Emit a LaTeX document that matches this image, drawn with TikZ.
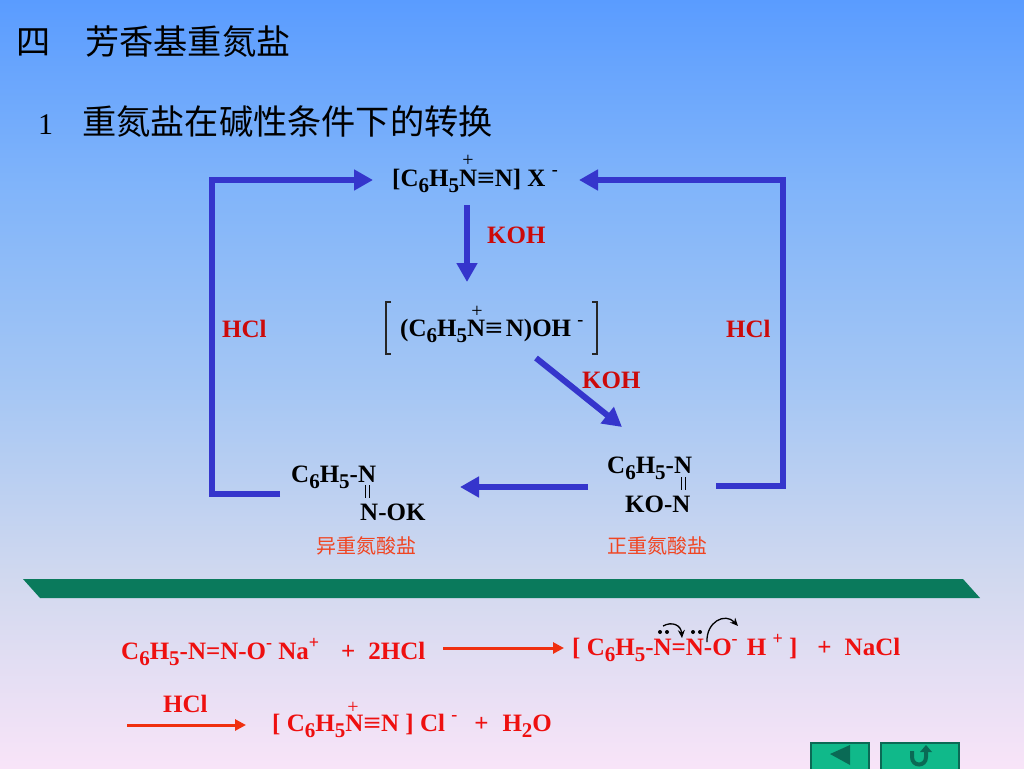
\documentclass[tikz,border=0pt]{standalone}
\usepackage{fontspec}
\usepackage{graphicx}
\setmainfont{Liberation Serif}
\newfontfamily\cjk{Noto Sans CJK SC}
\usetikzlibrary{arrows.meta}

\definecolor{flowblue}{HTML}{3535CC}
\definecolor{kohred}{HTML}{CC0A0A}
\definecolor{eqred}{HTML}{EE1010}
\definecolor{reactred}{HTML}{F03010}
\definecolor{saltred}{HTML}{F04522}
\definecolor{bargreen}{HTML}{0A7A5C}
\definecolor{btngreen}{HTML}{10B98A}
\definecolor{btndark}{HTML}{0A6A55}
\definecolor{bga}{HTML}{F8E4F8}
\definecolor{bgb}{HTML}{D2D9EF}
\definecolor{bgc}{HTML}{A4C6F4}
\definecolor{bgd}{HTML}{80B4FA}
\definecolor{bge}{HTML}{5A9CFF}
\pgfdeclareverticalshading{slidebg}{100bp}{
  color(0bp)=(bga); color(25bp)=(bga); color(37bp)=(bgb); color(50bp)=(bgc);
  color(63bp)=(bgd); color(75bp)=(bge); color(100bp)=(bge)}

\newcommand{\lowtxt}[1]{\raisebox{-.27em}{\fontsize{21}{21}\selectfont #1}}
\newcommand{\uptxt}[1]{\raisebox{.42em}{\fontsize{18}{18}\selectfont #1}}
\newcommand{\triplebond}{\scalebox{1.25}[1]{≡}}

\tikzset{
  chem/.style={anchor=base west,inner sep=0pt,font=\fontsize{25}{25}\selectfont\bfseries,text=black},
  eqn/.style={chem,text=eqred},
  reagent/.style={chem,text=kohred},
  saltname/.style={anchor=base,inner sep=0pt,font=\fontsize{20}{20}\selectfont\cjk,text=saltred},
  heading/.style={anchor=base west,inner sep=0pt,font=\fontsize{34.2}{35}\selectfont\cjk,text=black},
  plusmark/.style={inner sep=0pt,font=\fontsize{20}{20}\selectfont},
  flow/.style={line width=6pt,draw=flowblue,-{Triangle[length=19pt,width=20pt,fill=flowblue]}},
  react/.style={line width=3pt,draw=reactred,-{Triangle[length=11pt,width=11pt]}},
  btn/.style={draw=btndark,line width=1.2pt,fill=btngreen},
  push/.style={line width=1.3pt,-{Stealth[length=8pt,width=7pt]}}
}

\begin{document}
\begin{tikzpicture}[x=1pt,y=-1pt]
\useasboundingbox (0,0) rectangle (1024,768);
\shade[shading=slidebg] (0,0) rectangle (1024,768);

% headings
\node[heading] (title) at (16,55) {四\hspace{35pt}芳香基重氮盐};
\node[heading,font=\fontsize{30}{30}\selectfont] (num) at (38,134) {1};
\node[heading] (subtitle) at (82,134) {重氮盐在碱性条件下的转换};

% species
\node[chem] (diazo) at (392,186) {[C\lowtxt{6}H\lowtxt{5}N\triplebond N] X \uptxt{-}};
\node[plusmark] (diazoplus) at (468,161) {+};
\node[chem] (hydroxide) at (400,336) {(C\lowtxt{6}H\lowtxt{5}N\triplebond\hspace{3pt}N)OH \uptxt{-}};
\node[plusmark] (hydroxideplus) at (477,312) {+};
\node[chem] (isotop) at (291,482) {C\lowtxt{6}H\lowtxt{5}-N};
\node[chem] (isobot) at (360,520) {N-OK};
\node[chem] (normtop) at (607,473) {C\lowtxt{6}H\lowtxt{5}-N};
\node[chem] (normbot) at (625,512) {KO-N};
\node[saltname] (isoname) at (366,553) {异重氮酸盐};
\node[saltname] (normname) at (657,553) {正重氮酸盐};

% reagents
\node[reagent] (koha) at (487,243) {KOH};
\node[reagent] (kohb) at (582,388) {KOH};
\node[reagent] (hcla) at (222,337) {HCl};
\node[reagent] (hclb) at (726,337) {HCl};

% brackets and double bonds
\draw[line width=1.2pt,draw=black!85] (391,302) -- (386,302) -- (386,354) -- (391,354);
\draw[line width=1.2pt,draw=black!85] (592,302) -- (597,302) -- (597,354) -- (592,354);
\draw[line width=.8pt] (365,485) -- (365,498) (369,485) -- (369,498);
\draw[line width=.8pt] (681,477) -- (681,490) (685,477) -- (685,490);

% flow arrows
\coordinate (leftend) at (280,494);
\coordinate (rightend) at (716,486);
\coordinate (midstart) at (588,487);
\coordinate (midend) at (460,487);
\coordinate (diagstart) at (536,358);
\coordinate (diagend) at (622,427);
\coordinate (downstart) at (467,205);
\coordinate (downend) at (467,282);
\coordinate (topleft) at (373,180);
\coordinate (topright) at (579,180);
\draw[flow] (leftend) -- (212,494) -- (212,180) -- (topleft);
\draw[flow] (rightend) -- (783,486) -- (783,180) -- (topright);
\draw[flow] (downstart) -- (downend);
\draw[flow] (diagstart) -- (diagend);
\draw[flow] (midstart) -- (midend);

% divider
\fill[bargreen] (23,579) -- (963,579) -- (980,598) -- (40,598) -- cycle;

% equations
\node[eqn] (eqa) at (121,659) {C\lowtxt{6}H\lowtxt{5}-N=N-O\uptxt{-} Na\uptxt{+}\hspace{22pt}+\hspace{13pt}2HCl};
\node[eqn] (eqb) at (572,655) {[ C\lowtxt{6}H\lowtxt{5}-N=N-O\uptxt{-}\hspace{3pt} H \uptxt{+} ]\hspace{20pt}+\hspace{13pt}NaCl};
\node[eqn] (hclc) at (163,712) {HCl};
\node[eqn] (eqc) at (272,731) {[ C\lowtxt{6}H\lowtxt{5}N\triplebond N ] Cl \uptxt{-}\hspace{17pt}+\hspace{14pt}H\lowtxt{2}O};
\node[plusmark,text=eqred] (eqcplus) at (353,708) {+};
\coordinate (reactastart) at (443,648);
\coordinate (reactaend) at (564,648);
\coordinate (reactbstart) at (127,725);
\coordinate (reactbend) at (246,725);
\draw[react] (reactastart) -- (reactaend);
\draw[react] (reactbstart) -- (reactbend);

% lone pairs and electron pushes
\foreach \dotx in {660,667,693,700}
  \fill (\dotx,632) circle (2pt);
\draw[push] (663,626) .. controls (672,621) and (681,625) .. (682,638);
\draw[push] (707,642) .. controls (706,622) and (725,612) .. (738,626);

% buttons
\draw[btn] (811,743) rectangle (869,770);
\draw[btn] (881,743) rectangle (959,770);
\fill[btndark] (830,754) -- (850,745) -- (850,765) -- cycle;
\draw[line width=4pt,draw=btndark] (912,751) -- (912,757) .. controls (912,767) and (926,767) .. (926,757) -- (926,751);
\fill[btndark] (920,752) -- (926,745) -- (932,752) -- cycle;
\end{tikzpicture}
\end{document}
